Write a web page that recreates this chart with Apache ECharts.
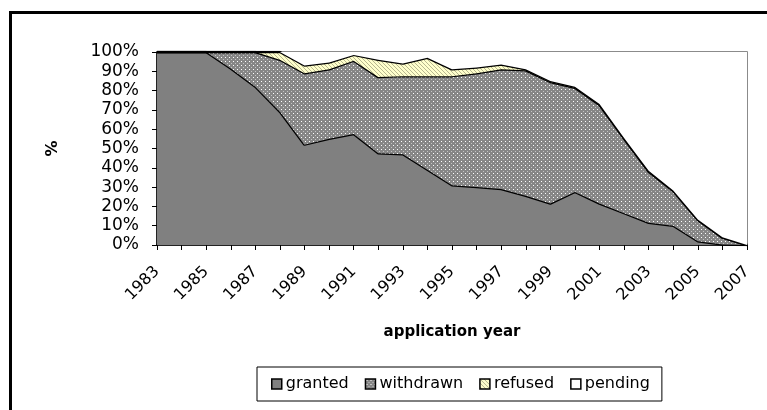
<!DOCTYPE html>
<html>
<head>
<meta charset="utf-8">
<script src="https://cdn.jsdelivr.net/npm/echarts@6/dist/echarts.min.js"></script>
<style>
  html, body { margin: 0; padding: 0; background: #fff; }
  #chart { width: 767px; height: 410px; }
</style>
</head>
<body>
<div id="chart"></div>
<script>
// application years
var years = ['1983', '1984', '1985', '1986', '1987', '1988', '1989', '1990', '1991', '1992',
    '1993', '1994', '1995', '1996', '1997', '1998', '1999', '2000', '2001', '2002',
    '2003', '2004', '2005', '2006', '2007'];

// share of applications per outcome (%)
var granted   = [100, 100, 100, 91.5, 82, 69, 52, 55, 57.5, 47.5, 47, 39, 31, 30, 29, 25.5, 21.5, 27.5, 21.5, 16.5, 11.5, 10, 2, 0.3, 0];
var withdrawn = [0, 0, 0, 8.5, 18, 27, 37, 36, 38, 39.5, 40.5, 48.5, 56.5, 59, 62, 65, 63, 54, 51, 38.5, 26.5, 18, 11, 3.5, 0];
var refused   = [0, 0, 0, 0, 0, 4, 4, 3.5, 3, 9, 6.5, 9.5, 3.5, 3, 2.5, 0.5, 0.5, 0.5, 0.5, 0.5, 0.5, 0.3, 0.2, 0.2, 0];
var pending   = [0, 0, 0, 0, 0, 0, 7, 5.5, 1.5, 4, 6, 3, 9, 8, 6.5, 9, 15, 18, 27, 44.5, 61.5, 71.7, 86.8, 96, 100];

var seriesNames = ['granted', 'withdrawn', 'refused', 'pending'];

/**
 * Small canvas tiles to imitate the Excel fill patterns
 */
function dottedPattern() {
    var c = document.createElement('canvas');
    c.width = 4;
    c.height = 4;
    var ctx = c.getContext('2d');
    ctx.fillStyle = '#868686';
    ctx.fillRect(0, 0, 4, 4);
    ctx.fillStyle = '#ffffff';
    ctx.fillRect(1, 1, 1, 1);
    ctx.fillStyle = '#c4c4c4';
    ctx.fillRect(3, 3, 1, 1);
    return { image: c, repeat: 'repeat' };
}

function hatchPattern() {
    var c = document.createElement('canvas');
    c.width = 4;
    c.height = 4;
    var ctx = c.getContext('2d');
    ctx.fillStyle = '#ffffcc';
    ctx.fillRect(0, 0, 4, 4);
    ctx.fillStyle = '#b8b890';
    for (var i = 0; i < 4; i++) {
        ctx.fillRect(i, i, 1, 1);
    }
    return { image: c, repeat: 'repeat' };
}

var fills = ['#808080', dottedPattern(), hatchPattern(), '#ffffff'];
var values = [granted, withdrawn, refused, pending];

var chart = echarts.init(document.getElementById('chart'), null, { renderer: 'canvas' });

var series = seriesNames.map(function(name, i) {
    return {
        name: name,
        type: 'line',
        stack: 'total',
        data: values[i],
        symbol: 'none',
        z: 2 + i,
        lineStyle: {
            color: '#000',
            width: i === 3 ? 0 : 2.5,
            opacity: i === 3 ? 0 : 1
        },
        itemStyle: { color: fills[i] },
        areaStyle: { color: fills[i], opacity: 1 }
    };
});

var option = {
    animation: false,
    textStyle: { fontFamily: 'DejaVu Sans', color: '#000' },
    grid: {
        left: 157,
        right: 20,
        top: 52,
        bottom: 165,
        show: true,
        borderColor: '#666',
        borderWidth: 1.5,
        backgroundColor: 'transparent'
    },
    legend: {
        left: 257,
        top: 367,
        width: 420,
        padding: [9, 12, 9, 14],
        borderColor: '#000',
        borderWidth: 1,
        itemWidth: 10,
        itemHeight: 10,
        itemGap: 16,
        icon: 'rect',
        textStyle: { fontSize: 16, fontFamily: 'DejaVu Sans', color: '#000', padding: [0, 0, 0, -1] },
        data: seriesNames.map(function(name, i) {
            return {
                name: name,
                icon: 'rect',
                itemStyle: { color: fills[i], borderColor: '#000', borderWidth: 1.5 }
            };
        })
    },
    xAxis: {
        type: 'category',
        data: years,
        boundaryGap: false,
        name: 'application year',
        nameLocation: 'middle',
        nameGap: 80,
        nameTextStyle: { fontSize: 15, fontWeight: 'bold', fontFamily: 'DejaVu Sans', color: '#000' },
        axisLine: { lineStyle: { color: '#000', width: 1.5 } },
        axisTick: { interval: 0, length: 5, lineStyle: { color: '#000' } },
        axisLabel: {
            interval: 1,
            rotate: 45,
            margin: 24,
            fontSize: 16,
            color: '#000'
        },
        splitLine: { show: false }
    },
    yAxis: {
        type: 'value',
        min: 0,
        max: 100,
        interval: 10,
        name: '%',
        nameLocation: 'middle',
        nameRotate: 90,
        nameGap: 96,
        nameTextStyle: { fontSize: 16, fontWeight: 'bold', fontFamily: 'DejaVu Sans', color: '#000' },
        axisLine: { show: true, lineStyle: { color: '#000', width: 1.5 } },
        axisTick: { show: true, length: 5, lineStyle: { color: '#000' } },
        axisLabel: {
            formatter: '{value}%',
            margin: 18,
            fontSize: 17,
            color: '#000'
        },
        splitLine: { show: false }
    },
    graphic: [{
        type: 'rect',
        shape: { x: 10.5, y: 12.5, width: 900, height: 600 },
        style: { fill: 'none', stroke: '#000', lineWidth: 3 },
        silent: true
    }],
    series: series
};

chart.setOption(option);

window.addEventListener('resize', function() {
    chart.resize();
});
</script>
</body>
</html>
